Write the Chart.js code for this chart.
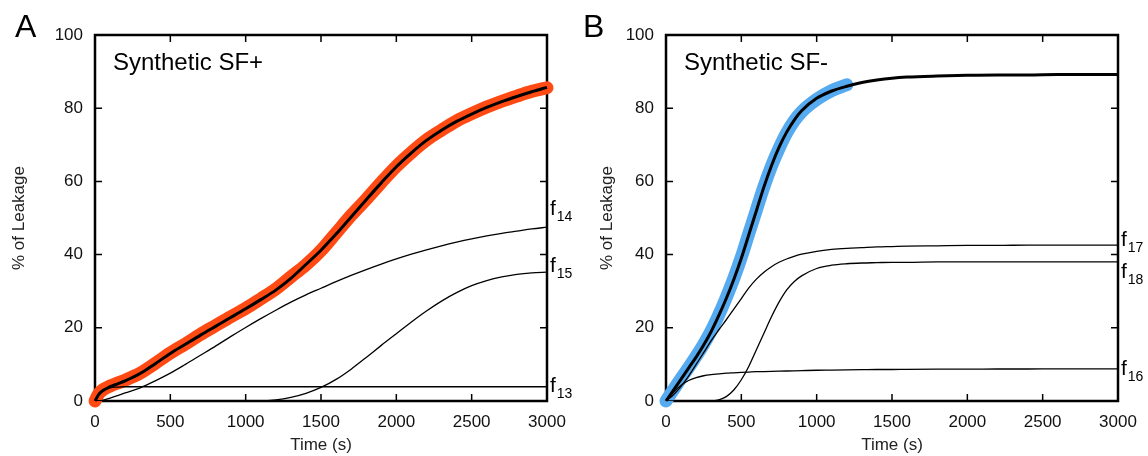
<!DOCTYPE html>
<html>
<head>
<meta charset="utf-8">
<script src="https://cdn.jsdelivr.net/npm/chart.js@4.4.0/dist/chart.umd.min.js"></script>
<style>
html, body { margin: 0; padding: 0; background: #fff; }
#wrap { position: relative; width: 1148px; height: 456px; }
.panel { position: absolute; top: 0; width: 574px; height: 456px; }
</style>
</head>
<body>
<div id="wrap">
  <div class="panel" style="left:0"><canvas id="chartA"></canvas></div>
  <div class="panel" style="left:574px"><canvas id="chartB"></canvas></div>
</div>
<script>
// ---- panel A : Synthetic SF+ ----
const timeA = [0, 25, 50, 100, 150, 200, 300, 400, 500, 600, 700, 800, 900, 1000, 1100, 1200, 1300, 1400, 1500,
  1600, 1700, 1800, 1900, 2000, 2100, 2200, 2300, 2400, 2500, 2600, 2700, 2800, 2900, 3000];
const dataA = [0, 2.0, 3.0, 4.1, 4.9, 5.7, 7.6, 10.3, 13.1, 15.6, 18.2, 20.6, 23.0, 25.3, 27.9, 30.6, 33.9, 37.2, 41.1,
  45.9, 50.7, 55.1, 59.7, 64.1, 67.9, 71.3, 74.0, 76.5, 78.5, 80.3, 81.9, 83.3, 84.6, 85.6];
const fitA = [0, 1.8, 2.8, 3.9, 4.7, 5.5, 7.5, 10.2, 13.0, 15.5, 18.0, 20.4, 22.8, 25.2, 27.7, 30.3, 33.5, 37.3, 41.2,
  45.6, 50.3, 55.0, 59.6, 64.0, 67.8, 71.2, 74.0, 76.4, 78.4, 80.2, 81.8, 83.2, 84.5, 85.7];
const f13 = [0, 1.8, 2.8, 3.6, 3.8, 3.9, 3.9, 3.9, 3.9, 3.9, 3.9, 3.9, 3.9, 3.9, 3.9, 3.9, 3.9, 3.9, 3.9,
  3.9, 3.9, 3.9, 3.9, 3.9, 3.9, 3.9, 3.9, 3.9, 3.9, 3.9, 3.9, 3.9, 3.9, 3.9];
const f14 = [0, 0.1, 0.2, 0.8, 1.5, 2.2, 3.6, 5.5, 7.6, 10.0, 12.5, 15.0, 17.6, 20.1, 22.5, 24.8, 27.0, 29.0, 30.8,
  32.6, 34.3, 35.9, 37.4, 38.8, 40.1, 41.3, 42.4, 43.4, 44.3, 45.1, 45.8, 46.4, 47.0, 47.5];
const f15 = [0, 0, 0, 0, 0, 0, 0, 0, 0, 0, 0, 0, 0, 0, 0, 0.3, 1.0, 2.1, 3.7,
  5.9, 8.7, 11.9, 15.2, 18.4, 21.6, 24.6, 27.3, 29.6, 31.5, 32.9, 33.9, 34.6, 35.0, 35.2];

// ---- panel B : Synthetic SF- ----
const timeB = [0, 25, 50, 100, 150, 200, 250, 300, 350, 400, 450, 500, 550, 600, 650, 700, 750, 800, 850, 900,
  1000, 1100, 1200, 1300, 1400, 1500, 1600, 1800, 2000, 2200, 2400, 2600, 2800, 3000];
const dataB = [0, 1.6, 3.1, 6.2, 9.1, 12.2, 15.5, 19.2, 23.5, 28.3, 33.5, 39.3, 45.8, 52.2, 58.6, 64.2, 69.0, 73.2, 76.5, 79.0,
  82.4, 84.8, 86.4];
const fitB = [0, 1.5, 3.0, 6.0, 9.0, 12.0, 15.3, 19.0, 23.3, 28.0, 33.2, 39.0, 45.5, 52.0, 58.5, 64.3, 69.3, 73.4, 76.7, 79.3,
  82.7, 84.7, 86.0, 87.0, 87.7, 88.2, 88.5, 88.8, 89.0, 89.1, 89.1, 89.2, 89.2, 89.2];
const f16 = [0, 1.2, 2.4, 4.3, 5.6, 6.4, 6.9, 7.2, 7.4, 7.6, 7.7, 7.8, 7.9, 8.0, 8.05, 8.1, 8.15, 8.2, 8.25, 8.3,
  8.4, 8.45, 8.5, 8.55, 8.6, 8.6, 8.65, 8.7, 8.7, 8.75, 8.75, 8.8, 8.8, 8.8];
const f17 = [0, 0.8, 1.7, 4.0, 6.8, 10.0, 13.2, 16.5, 19.4, 22.2, 25.1, 28.0, 30.9, 33.3, 35.2, 36.7, 37.9, 38.8, 39.5, 40.1,
  40.9, 41.4, 41.7, 41.9, 42.1, 42.2, 42.3, 42.4, 42.5, 42.5, 42.6, 42.6, 42.6, 42.6];
const f18 = [0, 0, 0, 0, 0, 0, 0, 0, 0.3, 1.2, 3.0, 5.8, 9.5, 14.0, 18.5, 23.0, 27.0, 30.3, 32.6, 34.2,
  36.2, 37.1, 37.5, 37.7, 37.8, 37.9, 37.9, 38.0, 38.0, 38.0, 38.0, 38.0, 38.0, 38.0];

const xTicks = [0, 500, 1000, 1500, 2000, 2500, 3000];
const yTicks = [0, 20, 40, 60, 80, 100];

Chart.defaults.font.family = "'Liberation Sans', Arial, sans-serif";
Chart.defaults.color = '#111';

function pts(times, vals) {
  return vals.map((v, i) => ({x: times[i], y: v}));
}

// frame + inward ticks on all four sides, panel letter, inset title, curve labels
const decor = {
  id: 'decor',
  beforeDatasetsDraw(chart) {
    const {ctx, chartArea: a, scales: {x, y}} = chart;
    ctx.save();
    ctx.strokeStyle = '#000';
    ctx.lineWidth = 1.5;
    ctx.beginPath();
    x.ticks.forEach(t => {
      const px = x.getPixelForValue(t.value);
      ctx.moveTo(px, a.bottom); ctx.lineTo(px, a.bottom - 7);
      ctx.moveTo(px, a.top); ctx.lineTo(px, a.top + 7);
    });
    y.ticks.forEach(t => {
      const py = y.getPixelForValue(t.value);
      ctx.moveTo(a.left, py); ctx.lineTo(a.left + 7, py);
      ctx.moveTo(a.right, py); ctx.lineTo(a.right - 7, py);
    });
    ctx.stroke();
    ctx.lineWidth = 2.5;
    ctx.strokeRect(a.left, a.top, a.right - a.left, a.bottom - a.top);
    ctx.restore();
  },
  afterDraw(chart, args, opts) {
    const {ctx, chartArea: a} = chart;
    ctx.save();
    ctx.fillStyle = '#000';
    ctx.textBaseline = 'alphabetic';
    ctx.font = "32px 'Liberation Sans', Arial, sans-serif";
    ctx.fillText(opts.letter, opts.letterX, 37);
    ctx.font = "24px 'Liberation Sans', Arial, sans-serif";
    ctx.fillText(opts.title, a.left + 18, 70);
    opts.curves.forEach(c => {
      const meta = chart.getDatasetMeta(c.ds);
      const last = meta.data[meta.data.length - 1];
      const yy = last.y + c.dy;
      ctx.textBaseline = 'middle';
      ctx.font = "21px 'Liberation Sans', Arial, sans-serif";
      ctx.fillText('f', a.right + 3, yy);
      const w = ctx.measureText('f').width;
      ctx.font = "14px 'Liberation Sans', Arial, sans-serif";
      ctx.fillText(c.sub, a.right + 3 + w + 1, yy + 8);
    });
    ctx.restore();
  }
};

function makeChart(id, cfg) {
  const thin = (vals, times) => ({
    data: pts(times, vals), borderColor: '#000', borderWidth: 1.3,
    pointRadius: 0, cubicInterpolationMode: 'monotone', order: 1
  });
  return new Chart(document.getElementById(id), {
    type: 'line',
    data: {
      datasets: [
        {
          data: pts(cfg.times, cfg.fit), borderColor: '#000', borderWidth: 3,
          pointRadius: 0, cubicInterpolationMode: 'monotone', order: 0, clip: false
        },
        ...cfg.parts.map(p => thin(p, cfg.times)),
        {
          data: pts(cfg.times, cfg.obs), borderColor: cfg.color, borderWidth: 13,
          borderCapStyle: 'round', borderJoinStyle: 'round',
          pointRadius: 0, cubicInterpolationMode: 'monotone', order: 5, clip: false
        }
      ]
    },
    options: {
      responsive: true,
      maintainAspectRatio: false,
      animation: false,
      events: [],
      layout: {padding: {left: 0, right: cfg.padRight, top: 35, bottom: 0}},
      plugins: {
        legend: {display: false},
        tooltip: {enabled: false},
        decor: cfg.decor
      },
      scales: {
        x: {
          type: 'linear', min: 0, max: 3000,
          grid: {display: false, drawTicks: false},
          border: {display: false},
          afterBuildTicks: s => { s.ticks = xTicks.map(v => ({value: v})); },
          afterFit: s => { s.height = 55; s.paddingLeft = 0; s.paddingRight = 0; },
          ticks: {padding: 11, font: {size: 17}, color: '#111', callback: v => String(v)},
          title: {display: true, text: 'Time (s)', font: {size: 17}, color: '#222', padding: {top: 0, bottom: 0}}
        },
        y: {
          min: 0, max: 100,
          grid: {display: false, drawTicks: false},
          border: {display: false},
          afterBuildTicks: s => { s.ticks = yTicks.map(v => ({value: v})); },
          afterFit: s => { s.width = cfg.yWidth; },
          ticks: {padding: 12, font: {size: 17}, color: '#111', callback: v => String(v)},
          title: {display: true, text: '% of Leakage', font: {size: 17}, color: '#222', padding: {top: cfg.titlePad, bottom: 0}}
        }
      }
    },
    plugins: [decor]
  });
}

makeChart('chartA', {
  times: timeA, fit: fitA, obs: dataA, parts: [f13, f14, f15], color: '#FF4A14',
  padRight: 27, yWidth: 95, titlePad: 9,
  decor: {
    letter: 'A', letterX: 15, title: 'Synthetic SF+',
    curves: [{ds: 1, sub: '13', dy: -1}, {ds: 2, sub: '14', dy: -18}, {ds: 3, sub: '15', dy: -6}]
  }
});

makeChart('chartB', {
  times: timeB, fit: fitB, obs: dataB, parts: [f16, f17, f18], color: '#55AAF0',
  padRight: 30, yWidth: 92, titlePad: 23,
  decor: {
    letter: 'B', letterX: 9, title: 'Synthetic SF-',
    curves: [{ds: 1, sub: '16', dy: 0}, {ds: 2, sub: '17', dy: -5}, {ds: 3, sub: '18', dy: 10}]
  }
});
</script>
</body>
</html>
